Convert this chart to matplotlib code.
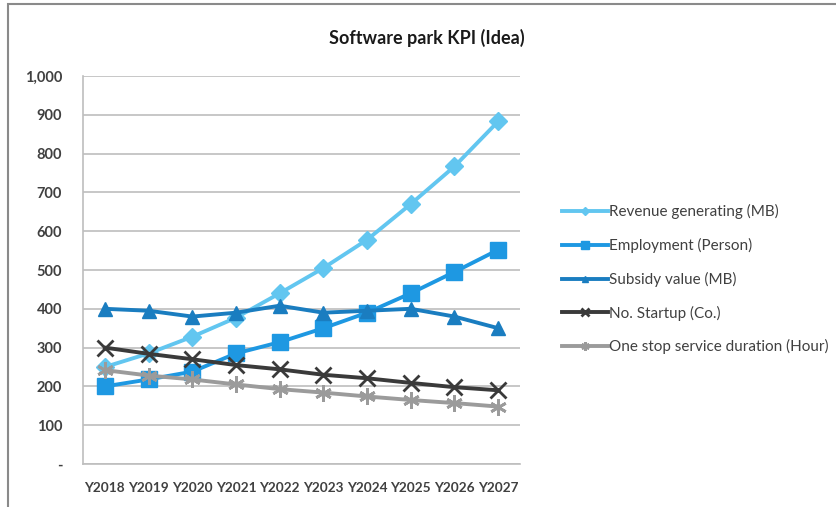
import matplotlib.pyplot as plt
from matplotlib.patches import Rectangle
from matplotlib.ticker import FuncFormatter

plt.rcParams['font.family'] = ['Lato', 'DejaVu Sans']

# chart data
years = ['Y2018', 'Y2019', 'Y2020', 'Y2021', 'Y2022', 'Y2023', 'Y2024', 'Y2025', 'Y2026', 'Y2027']
revenue = [250, 285, 328, 377, 440, 505, 578, 670, 767, 883]
employment = [200, 218, 238, 285, 314, 350, 390, 440, 495, 552]
subsidy = [400, 395, 380, 390, 408, 390, 395, 400, 380, 350]
startup = [300, 284, 270, 255, 244, 230, 221, 209, 198, 190]
one_stop = [242, 228, 218, 205, 193, 184, 174, 165, 157, 148]

series = [
    ('Revenue generating (MB)', revenue, '#62C6F0', 'D', 9),
    ('Employment (Person)', employment, '#1E98E2', 's', 11),
    ('Subsidy value (MB)', subsidy, '#1A7DC0', '^', 10),
    ('No. Startup (Co.)', startup, '#3A3A3A', 'x', 11),
    ('One stop service duration (Hour)', one_stop, '#9B9B9B', (6, 2, 0), 12),
]

fig = plt.figure(figsize=(8.37, 5.07), dpi=100)
ax = fig.add_axes([0.0992, 0.0848, 0.5221, 0.7653])

x = range(len(years))
for label, vals, color, marker, ms in series:
    thin = marker == 'x' or isinstance(marker, tuple)
    ax.plot(x, vals, color=color, linewidth=2.8, marker=marker, markersize=ms,
            markeredgewidth=2 if thin else 1, markeredgecolor=color,
            label=label)

ax.set_xlim(-0.5, len(years) - 0.5)
ax.set_ylim(0, 1000)
ax.set_xticks(list(x))
ax.set_xticklabels(years, fontsize=9.8, fontweight='bold', color='#404040')
ax.set_yticks(range(0, 1001, 100))
ax.yaxis.set_major_formatter(FuncFormatter(lambda v, p: '-' if v == 0 else f'{int(v):,}'))
ax.tick_params(axis='y', labelsize=10.5, colors='#404040', length=0, pad=15)
ax.tick_params(axis='x', length=0, pad=13)
for t in ax.get_yticklabels():
    t.set_fontweight('bold')
ax.grid(axis='y', color='#BEBEBE', linewidth=1.2)
ax.set_axisbelow(True)
for s in ['top', 'right']:
    ax.spines[s].set_visible(False)
ax.spines['left'].set_color('#BEBEBE')
ax.spines['bottom'].set_color('#BEBEBE')
ax.spines['left'].set_linewidth(1.2)
ax.spines['bottom'].set_linewidth(1.2)

fig.text(0.51, 0.925, 'Software park KPI (Idea)', ha='center', va='center',
         fontsize=13, fontweight='bold', color='#1A1A1A')

leg = fig.legend(loc='upper left', bbox_to_anchor=(0.655, 0.624), frameon=False,
                 fontsize=11, markerscale=0.5, handlelength=3.0, handletextpad=0.1,
                 labelspacing=1.22, labelcolor='#404040')

# outer chart frame
fig.patches.append(Rectangle((8 / 837, -0.05), 1.2, 0.05 + (507 - 4) / 507,
                             transform=fig.transFigure, fill=False,
                             edgecolor='#8A8A8A', linewidth=1.5))

fig.savefig('out.png', dpi=100)
